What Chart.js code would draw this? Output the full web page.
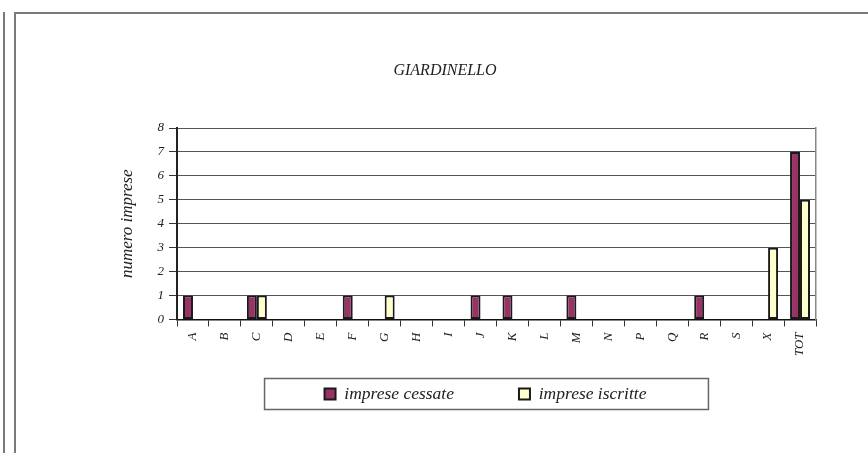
<!DOCTYPE html>
<html lang="it">
<head>
  <meta charset="UTF-8">
  <title>GIARDINELLO</title>
  <script src="https://cdn.jsdelivr.net/npm/chart.js"></script>
  <style>
    body { margin: 0; background: #fff; }
    #wrap { position: relative; width: 868px; height: 453px; overflow: hidden; }
    .line { position: absolute; background: #7a7a7a; }
    canvas { position: absolute; left: 0; top: 0; }
  </style>
</head>
<body>
  <div id="wrap">
    <div class="line" style="left:3px; top:12px; width:2px; height:441px;"></div>
    <div class="line" style="left:14px; top:12px; width:2px; height:441px;"></div>
    <div class="line" style="left:14px; top:12px; width:854px; height:2px;"></div>
    <canvas id="chart" width="868" height="453"></canvas>
  </div>

  <script>
    // dati
    const categorie = ['A', 'B', 'C', 'D', 'E', 'F', 'G', 'H', 'I', 'J', 'K', 'L', 'M', 'N', 'P', 'Q', 'R', 'S', 'X', 'TOT'];
    const cessate = [1, 0, 1, 0, 0, 1, 0, 0, 0, 1, 1, 0, 1, 0, 0, 0, 1, 0, 0, 7];
    const iscritte = [0, 0, 1, 0, 0, 0, 1, 0, 0, 0, 0, 0, 0, 0, 0, 0, 0, 0, 3, 5];
    const yTicks = [0, 1, 2, 3, 4, 5, 6, 7, 8];

    const serif = '"Liberation Serif", "Times New Roman", serif';
    const legendGap = 65;     // spazio tra le voci della legenda
    const legendCenterY = 394;
    const legendShiftX = -11;

    // sposta la legenda più vicino all'asse e la incornicia
    const legendFrame = {
      id: 'legendFrame',
      afterLayout(chart) {
        const lg = chart.legend;
        if (!lg) return;
        const shift = lg.top + legendGap + 8.75 - legendCenterY;
        lg.top -= shift;
        lg.bottom -= shift;
        lg.left += legendShiftX;
        lg.right += legendShiftX;
      },
      afterDraw(chart) {
        const lg = chart.legend;
        if (!lg || !lg.legendHitBoxes.length) return;
        const hb = lg.legendHitBoxes;
        const first = hb[0], last = hb[hb.length - 1];
        const cy = first.top + first.height / 2;
        const x0 = first.left - 60, x1 = last.left + last.width + 62;
        const c = chart.ctx;
        c.save();
        c.strokeStyle = '#666';
        c.lineWidth = 1.5;
        c.strokeRect(x0, cy - 15.5, x1 - x0, 31);
        c.restore();
      }
    };

    const ctx = document.getElementById('chart').getContext('2d');
    new Chart(ctx, {
      type: 'bar',
      data: {
        labels: categorie,
        datasets: [{
          label: 'imprese cessate',
          data: cessate,
          backgroundColor: '#993366',
          borderColor: '#1a1a1a',
          borderWidth: 2,
          borderSkipped: false
        }, {
          label: 'imprese iscritte',
          data: iscritte,
          backgroundColor: '#FFFFCC',
          borderColor: '#1a1a1a',
          borderWidth: 2,
          borderSkipped: false
        }]
      },
      options: {
        responsive: false,
        animation: false,
        layout: { padding: { left: 74, right: 52, top: 0, bottom: 1 } },
        datasets: { bar: { categoryPercentage: 0.625, barPercentage: 1.0 } },
        plugins: {
          title: {
            display: true,
            text: 'GIARDINELLO',
            color: '#222',
            font: { family: serif, size: 16, style: 'italic', weight: 'normal' },
            padding: { top: 61, bottom: 47.8 }
          },
          legend: {
            position: 'bottom',
            fullSize: false,
            labels: {
              color: '#222',
              boxWidth: 11,
              boxHeight: 11,
              padding: legendGap,
              font: { family: serif, size: 17.5, style: 'italic' }
            }
          },
          tooltip: { enabled: false }
        },
        scales: {
          x: {
            afterFit(s) { s.height = 40; },
            grid: { display: true, drawOnChartArea: false, offset: true, tickLength: 7, tickColor: '#333' },
            border: { color: '#111', width: 1.5 },
            ticks: {
              autoSkip: false,
              minRotation: 90,
              maxRotation: 90,
              padding: 6,
              color: '#222',
              font: { family: serif, size: 13, style: 'italic' }
            }
          },
          y: {
            min: 0,
            max: 8,
            afterFit(s) { s.width = 103; },
            afterBuildTicks(s) { s.ticks = yTicks.map(v => ({ value: v })); },
            grid: { color: '#555', tickLength: 8, tickColor: '#333' },
            border: { color: '#222', width: 2 },
            ticks: {
              stepSize: 1,
              padding: 5,
              color: '#222',
              font: { family: serif, size: 13, style: 'italic' }
            },
            title: {
              display: true,
              text: 'numero imprese',
              color: '#222',
              font: { family: serif, size: 17, style: 'italic' },
              padding: { top: 43.8, bottom: 0 }
            }
          },
          y2: {
            position: 'right',
            min: 0,
            max: 8,
            afterFit(s) { s.width = 0; },
            grid: { drawOnChartArea: false, drawTicks: false },
            border: { color: '#888', width: 1.5 },
            ticks: { display: false }
          }
        }
      },
      plugins: [legendFrame]
    });
  </script>
</body>
</html>
